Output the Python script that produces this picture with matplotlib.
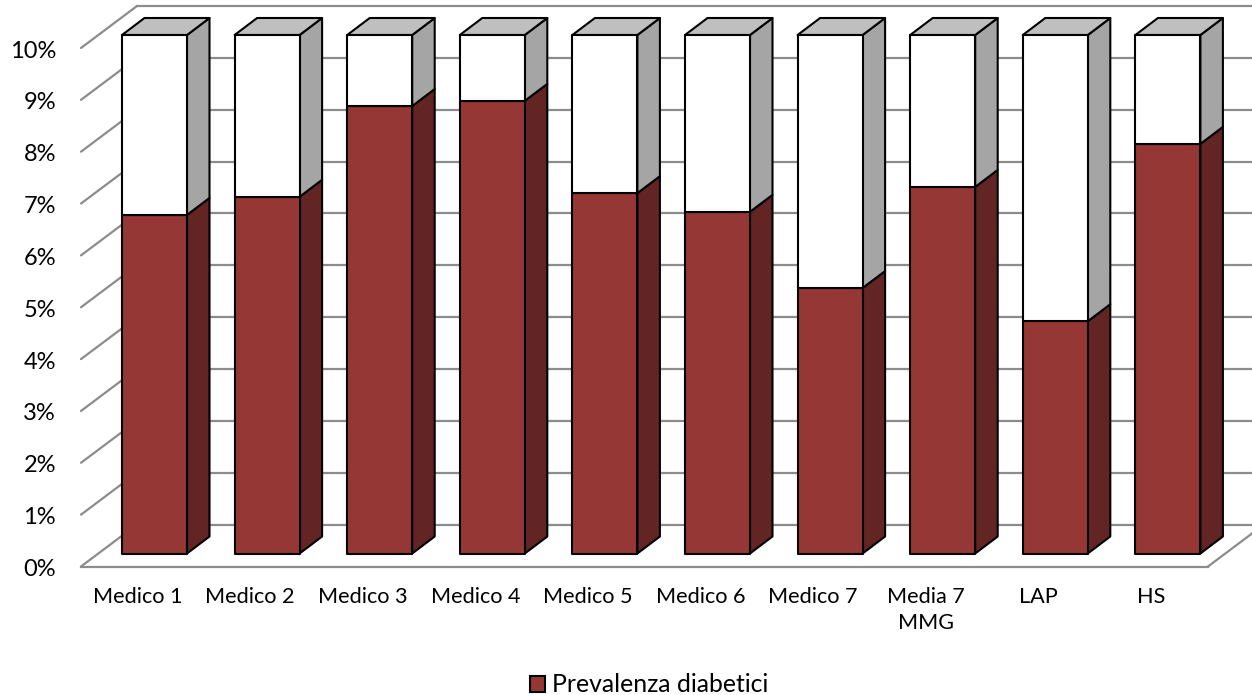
import numpy as np
import matplotlib
matplotlib.use("Agg")
import matplotlib.pyplot as plt
from matplotlib.patches import Polygon, Patch

plt.rcParams["font.family"] = ["Lato", "DejaVu Sans"]

categories = ["Medico 1", "Medico 2", "Medico 3", "Medico 4", "Medico 5",
              "Medico 6", "Medico 7", "Media 7\nMMG", "LAP", "HS"]
prevalenza = [6.53, 6.88, 8.63, 8.73, 6.95, 6.59, 5.12, 7.07, 4.48, 7.90]
resto = [3.47, 3.12, 1.37, 1.27, 3.05, 3.41, 4.88, 2.93, 5.52, 2.10]
y_ticks = [0, 1, 2, 3, 4, 5, 6, 7, 8, 9, 10]

W, H = 1252, 695
x_unit, y_unit = 112.6, 51.85   # pixels per category / per percentage point
x_orig, y_orig = 154.5, 553.5   # pixel position of category 0, value 0

# depth of the bars and of the chart floor, in data units
bar_dx, bar_dy = 22.5 / x_unit, 17 / y_unit
wall_dx, wall_dy = 56 / x_unit, 42 / y_unit
front_shift = 13 / y_unit
width = 65 / x_unit

RED, RED_SIDE = "#953735", "#632523"
WHITE_SIDE, WHITE_TOP = "#A5A5A5", "#BFBFBF"
GRID = "#8C8C8C"

fig = plt.figure(figsize=(W / 100, H / 100), dpi=100)
ax = fig.add_axes([0, 0, 1, 1])
ax.set_xlim(-x_orig / x_unit, (W - x_orig) / x_unit)
ax.set_ylim((y_orig - H) / y_unit, y_orig / y_unit)
ax.axis("off")

x_left = (81 - x_orig) / x_unit
x_floor_end = (1208 - x_orig) / x_unit
x_right = (W + 5 - x_orig) / x_unit

# walls
for v in y_ticks:
    y_front = v - front_shift
    ax.plot([x_left, x_left + wall_dx], [y_front, y_front + wall_dy],
            color=GRID, lw=1.6, zorder=1, solid_capstyle="round")
    ax.plot([x_left + wall_dx, x_right], [y_front + wall_dy] * 2,
            color=GRID, lw=1.6, zorder=1)
    ax.text((56 - x_orig) / x_unit, y_front - 3 / y_unit, f"{v}%", ha="right", va="center",
            fontsize=17, color="black")
ax.plot([x_left, x_floor_end], [-front_shift] * 2, color=GRID, lw=1.6, zorder=1)
ax.plot([x_floor_end, x_floor_end + wall_dx], [-front_shift, -front_shift + wall_dy],
        color=GRID, lw=1.6, zorder=1)

x = np.arange(len(categories))
edge = dict(edgecolor="black", linewidth=1.5, joinstyle="round")

for i, (a, b) in enumerate(zip(prevalenza, resto)):
    l, r = i - width / 2, i + width / 2
    top = a + b
    # right side of the two stacked blocks, then the top face
    ax.add_patch(Polygon([(r, 0), (r + bar_dx, bar_dy), (r + bar_dx, a + bar_dy), (r, a)],
                         facecolor=RED_SIDE, zorder=2, **edge))
    ax.add_patch(Polygon([(r, a), (r + bar_dx, a + bar_dy), (r + bar_dx, top + bar_dy), (r, top)],
                         facecolor=WHITE_SIDE, zorder=2, **edge))
    ax.add_patch(Polygon([(l, top), (r, top), (r + bar_dx, top + bar_dy), (l + bar_dx, top + bar_dy)],
                         facecolor=WHITE_TOP, zorder=2, **edge))

ax.bar(x, prevalenza, width=width, color=RED, zorder=3, **edge)
ax.bar(x, resto, width=width, bottom=prevalenza, color="white", zorder=3, **edge)

# category labels sit a bit left of the bars, as in the original
for i, name in enumerate(categories):
    ax.text(i - 17 / x_unit, (y_orig - 587) / y_unit, name, ha="center", va="top",
            fontsize=15.6, color="black", linespacing=1.4)

leg = ax.legend(handles=[Patch(facecolor=RED, edgecolor="black", linewidth=1.5,
                               label="Prevalenza diabetici")],
                loc="center", bbox_to_anchor=(649 / W, 1 - 685 / H), frameon=False,
                fontsize=17.8, handlelength=0.62, handleheight=0.62,
                handletextpad=0.3, borderpad=0)

fig.savefig("out.png", dpi=100)
